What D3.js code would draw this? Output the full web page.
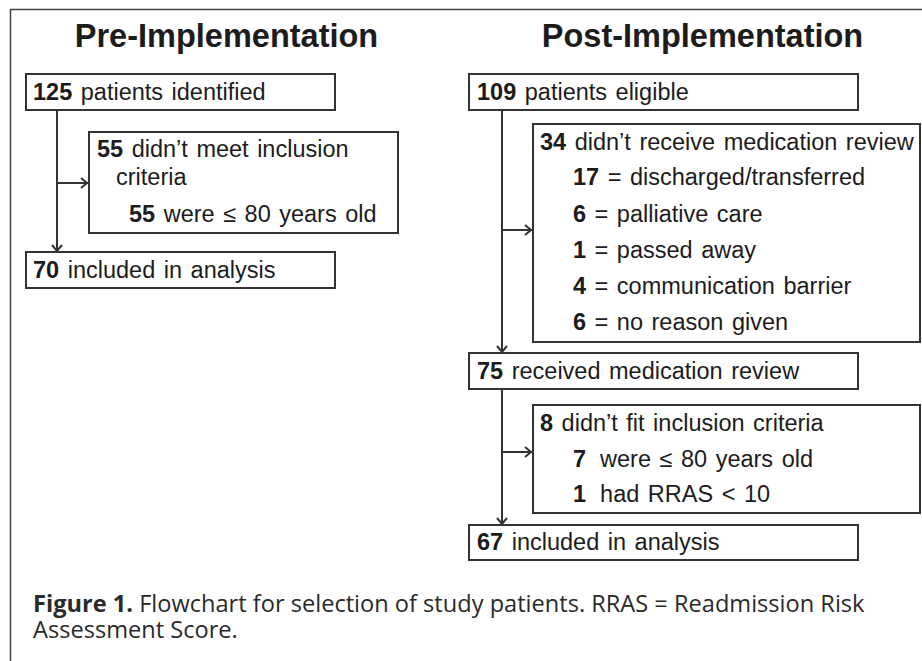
<!DOCTYPE html>
<html><head><meta charset="utf-8">
<script src="https://cdn.jsdelivr.net/npm/d3@7/dist/d3.min.js"></script>
<style>
html,body{margin:0;padding:0;background:#fff;}
svg{display:block;}
</style></head>
<body>
<script>
// ---- data ----
const panelTitles = ["Pre-Implementation", "Post-Implementation"];
const preMainCounts = ["125", "70"];
const preMainLabels = [" patients identified", " included in analysis"];
const preExclCounts = ["55", "", "55"];
const preExclLabels = [" didn\u2019t meet inclusion", "criteria", " were \u2264 80 years old"];
const postMainCounts = ["109", "75", "67"];
const postMainLabels = [" patients eligible", " received medication review", " included in analysis"];
const postExcl1Counts = ["34", "17", "6", "1", "4", "6"];
const postExcl1Labels = [" didn\u2019t receive medication review", " = discharged/transferred", " = palliative care", " = passed away", " = communication barrier", " = no reason given"];
const postExcl2Counts = ["8", "7", "1"];
const postExcl2Labels = [" didn\u2019t fit inclusion criteria", "were \u2264 80 years old", "had RRAS < 10"];
const captionBold = "Figure 1.";
const captionLines = [" Flowchart for selection of study patients. RRAS = Readmission Risk", "Assessment Score."];

// ---- layout ----
const W = 922, H = 661;
const svg = d3.select("body").append("svg").attr("width", W).attr("height", H);
const lineCol = "#333", textCol = "#1c1c1c";
const F = "'Liberation Sans', Arial, sans-serif";
const fs = 23.5;

// frame (top and left edges)
svg.append("path").attr("d", `M10.5,${H} L10.5,9.5 L${W},9.5`).attr("fill","none").attr("stroke","#444").attr("stroke-width",1.5);

// titles
const titleX = [226.5, 702.5];
svg.selectAll("text.title").data(panelTitles).join("text")
  .attr("class","title")
  .attr("x",(d,i)=>titleX[i]).attr("y",47)
  .attr("text-anchor","middle")
  .attr("font-family",F).attr("font-weight","bold").attr("font-size",32.5)
  .attr("fill",textCol).text(d=>d);

function box(x0,y0,x1,y1){
  svg.append("rect").attr("x",x0).attr("y",y0).attr("width",x1-x0).attr("height",y1-y0)
    .attr("fill","#fff").attr("stroke",lineCol).attr("stroke-width",2);
}
function line(count,label,x,y,gap){
  const t = svg.append("text").attr("x",x).attr("y",y)
    .attr("font-family",F).attr("font-size",fs).attr("fill",textCol)
    .attr("word-spacing","2px").attr("xml:space","preserve");
  if(count) t.append("tspan").attr("font-weight","bold").text(count);
  const s = t.append("tspan").text(label);
  if(gap) s.attr("dx",gap);
}
function vline(x,y0,y1,arrow){
  svg.append("line").attr("x1",x).attr("x2",x).attr("y1",y0).attr("y2",y1)
    .attr("stroke",lineCol).attr("stroke-width",2);
  if(arrow){
    svg.append("path").attr("d",`M${x-5},${y1-7} L${x},${y1-1} L${x+5},${y1-7}`)
      .attr("fill","none").attr("stroke",lineCol).attr("stroke-width",2);
  }
}
function harrow(x0,x1,y){
  svg.append("line").attr("x1",x0).attr("x2",x1-1).attr("y1",y).attr("y2",y)
    .attr("stroke",lineCol).attr("stroke-width",2);
  svg.append("path").attr("d",`M${x1-8},${y-5} L${x1-2},${y} L${x1-8},${y+5}`)
    .attr("fill","none").attr("stroke",lineCol).attr("stroke-width",2);
}

// ---- Pre-implementation ----
vline(57,110,252,true);
harrow(57,89,183);
box(26,74,335,110);
line(preMainCounts[0],preMainLabels[0],33,100);
box(89,132,398,233);
const preExX=[97,116,129], preExY=[157,185,222];
preExclCounts.forEach((c,i)=>line(c,preExclLabels[i],preExX[i],preExY[i]));
box(26,252,335,288);
line(preMainCounts[1],preMainLabels[1],33,278);

// ---- Post-implementation ----
vline(502,110,353,true);
vline(502,389,525,true);
harrow(502,533,230);
harrow(502,533,452);
const mainY=[[74,110],[353,389],[525,560]], mainBase=[100,379,550];
postMainCounts.forEach((c,i)=>{
  box(469,mainY[i][0],858,mainY[i][1]);
  line(c,postMainLabels[i],477,mainBase[i]);
});
box(533,124,920,342);
const e1Y=[150,185,222,258,294,330];
postExcl1Counts.forEach((c,i)=>line(c,postExcl1Labels[i],i===0?540:573,e1Y[i]));
box(533,405,920,513);
const e2Y=[431,467,502];
postExcl2Counts.forEach((c,i)=>line(c,postExcl2Labels[i],i===0?540:573,e2Y[i], i===0?0:14));

// ---- caption ----
const CF = "'Open Sans', 'Noto Sans', sans-serif";
const cfs = 23.6;
const cap = svg.append("text").attr("x",33).attr("y",612)
  .attr("font-family",CF).attr("font-size",cfs).attr("fill","#2a2a2a").attr("xml:space","preserve");
cap.append("tspan").attr("font-weight","bold").text(captionBold);
cap.append("tspan").text(captionLines[0]);
svg.append("text").attr("x",33).attr("y",638)
  .attr("font-family",CF).attr("font-size",cfs).attr("fill","#2a2a2a").text(captionLines[1]);
</script>
</body></html>
